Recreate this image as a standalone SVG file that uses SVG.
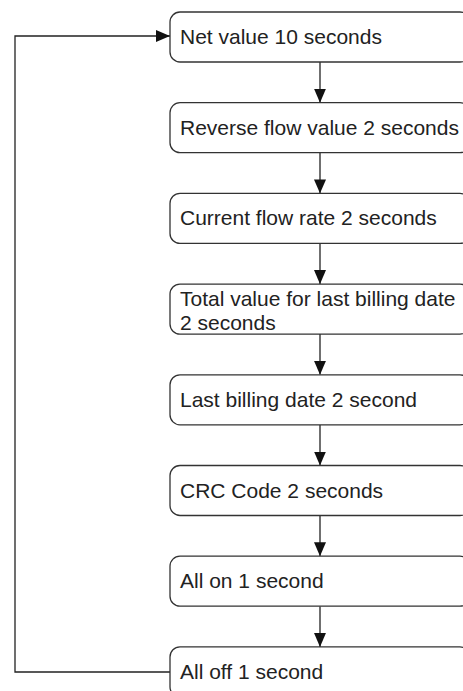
<svg xmlns="http://www.w3.org/2000/svg" width="463" height="691" viewBox="0 0 463 691">
<style>
.box{fill:#fff;stroke:#333;stroke-width:1.3}
.t{font-family:"Liberation Sans",Arial,sans-serif;font-size:21px;fill:#222}
.c{fill:none;stroke:#222;stroke-width:1.3}
</style>
<defs>
<marker id="ah" markerWidth="14" markerHeight="12" refX="14" refY="6" orient="auto" markerUnits="userSpaceOnUse">
<path d="M0,0 L14,6 L0,12 Z" fill="#111"/>
</marker>
</defs>
<rect width="463" height="691" fill="#fff"/>
<g id="connectors">
<line class="c" x1="320" y1="62" x2="320" y2="102.7" marker-end="url(#ah)"/>
<line class="c" x1="320" y1="152.7" x2="320" y2="193.4" marker-end="url(#ah)"/>
<line class="c" x1="320" y1="243.4" x2="320" y2="284.1" marker-end="url(#ah)"/>
<line class="c" x1="320" y1="334.1" x2="320" y2="374.8" marker-end="url(#ah)"/>
<line class="c" x1="320" y1="424.8" x2="320" y2="465.5" marker-end="url(#ah)"/>
<line class="c" x1="320" y1="515.5" x2="320" y2="556.2" marker-end="url(#ah)"/>
<line class="c" x1="320" y1="606.2" x2="320" y2="646.9" marker-end="url(#ah)"/>
<polyline class="c" points="170,672 15,672 15,36 170,36" marker-end="url(#ah)"/>
</g>
<g id="n1"><rect class="box" x="170" y="12" width="300" height="50" rx="10"/><text class="t" x="180" y="44">Net value 10 seconds</text></g>
<g id="n2"><rect class="box" x="170" y="102.7" width="300" height="50" rx="10"/><text class="t" x="180" y="134.7">Reverse flow value 2 seconds</text></g>
<g id="n3"><rect class="box" x="170" y="193.4" width="300" height="50" rx="10"/><text class="t" x="180" y="225.4">Current flow rate 2 seconds</text></g>
<g id="n4"><rect class="box" x="170" y="284.1" width="300" height="50" rx="10"/><text class="t" x="180" y="306"><tspan x="180" y="306">Total value for last billing date</tspan><tspan x="180" y="330">2 seconds</tspan></text></g>
<g id="n5"><rect class="box" x="170" y="374.8" width="300" height="50" rx="10"/><text class="t" x="180" y="406.8">Last billing date 2 second</text></g>
<g id="n6"><rect class="box" x="170" y="465.5" width="300" height="50" rx="10"/><text class="t" x="180" y="497.5">CRC Code 2 seconds</text></g>
<g id="n7"><rect class="box" x="170" y="556.2" width="300" height="50" rx="10"/><text class="t" x="180" y="588.2">All on 1 second</text></g>
<g id="n8"><rect class="box" x="170" y="646.9" width="300" height="50" rx="10"/><text class="t" x="180" y="678.9">All off 1 second</text></g>
</svg>
